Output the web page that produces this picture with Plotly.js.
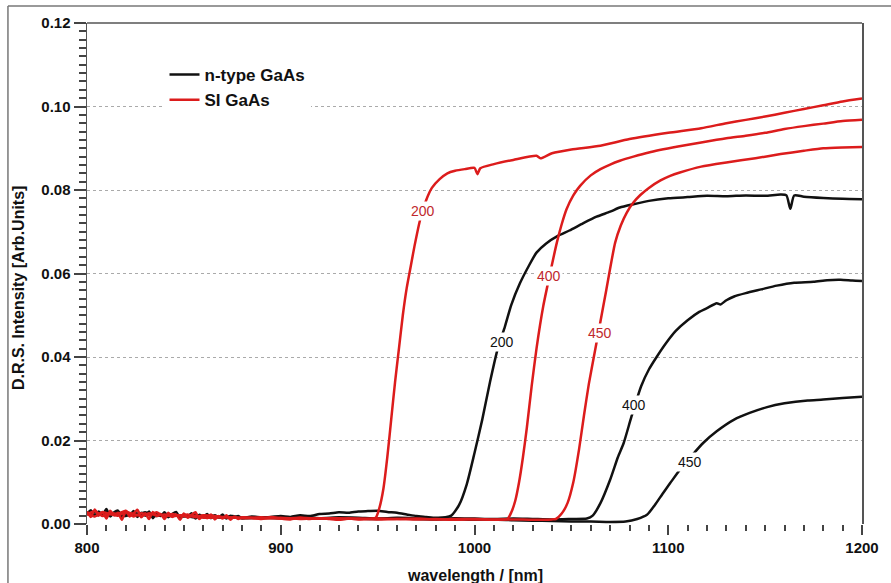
<!DOCTYPE html>
<html>
<head>
<meta charset="utf-8">
<script src="https://cdn.plot.ly/plotly-3.0.1.min.js"></script>
<style>html,body{margin:0;padding:0;background:#fff;}#chart{width:891px;height:583px;}</style>
</head>
<body>
<div id="chart"></div>
<script>
// ---- data ----
const seriesNames = ["n-type GaAs", "SI GaAs"];
const curveLabels = ["200", "400", "450"];
const xTitle = "wavelength / [nm]";
const yTitle = "D.R.S. Intensity [Arb.Units]";

// n-type GaAs, 200
const nt200_wl = [800,802,804,806,808,810,812,814,816,818,820,822,824,826,828,830,832,834,836,838,
  840,842,844,846,848,850,852,854,856,858,860,862,864,866,868,870,872,874,876,878,880,
  885,890,895,900,905,910,915,920,925,930,935,940,945,950,955,960,965,970,975,980,985,
  988,992,996,1000,1004,1008,1012,1015.7,1019,1023.5,1028,1032,1037,1043,1049,1056,1063,1070,1075,1082,1090,
  1100,1110,1120,1130,1140,1150,1158,1161,1163,1165,1170,1180,1190,1200];
const nt200_val = [0.0025,0.0033,0.0019,0.0030,0.0022,0.0036,0.0018,0.0028,0.0032,0.0015,0.0029,0.0021,0.0031,0.0017,0.0027,0.0020,0.0030,0.0014,0.0025,0.0019,
  0.0028,0.0016,0.0024,0.0029,0.0015,0.0023,0.0018,0.0026,0.0013,0.0022,0.0017,0.0024,0.0014,0.0021,0.0016,0.0023,0.0013,0.0020,0.0015,0.0019,0.0014,
  0.0018,0.0016,0.0017,0.0019,0.0017,0.0021,0.0019,0.0024,0.0025,0.0028,0.0027,0.0030,0.0031,0.0032,0.0029,0.0027,0.0023,0.0019,0.0017,0.0015,0.0016,
  0.0020,0.0045,0.0095,0.0170,0.0250,0.0340,0.0420,0.0473,0.0525,0.0577,0.0618,0.0650,0.0672,0.0690,0.0703,0.0720,0.0736,0.0748,0.0758,0.0766,0.0774,
  0.0780,0.0783,0.0786,0.0785,0.0787,0.0786,0.0789,0.0787,0.0755,0.0787,0.0784,0.0781,0.0779,0.0778];

// n-type GaAs, 400
const nt400_wl = [800,805,810,815,820,825,830,835,840,845,850,855,860,865,870,875,880,
  890,900,910,920,930,940,950,960,970,980,990,1000,1010,1020,1030,1040,1050,
  1058,1061,1065,1070,1074,1077,1081,1086,1090,1094,1099,1104,1110,1116,1120,1125,1127,1130,1134,1140,1148,1156,1165,1175,1182,1189,1195,1200];
const nt400_val = [0.0023,0.0029,0.0020,0.0027,0.0025,0.0021,0.0028,0.0019,0.0024,0.0022,0.0018,0.0023,0.0017,0.0020,0.0016,0.0019,0.0015,
  0.0016,0.0015,0.0017,0.0014,0.0016,0.0015,0.0013,0.0015,0.0014,0.0012,0.0014,0.0013,0.0012,0.0013,0.0012,0.0011,0.0012,
  0.0013,0.0020,0.0050,0.0106,0.0160,0.0194,0.0257,0.0330,0.0370,0.0400,0.0434,0.0463,0.0488,0.0508,0.0517,0.0529,0.0526,0.0536,0.0545,0.0553,0.0562,0.0571,0.0578,0.0580,0.0584,0.0585,0.0583,0.0582];

// n-type GaAs, 450
const nt450_wl = [800,805,810,815,820,825,830,835,840,845,850,855,860,865,870,875,880,
  890,900,910,920,930,940,950,960,970,980,990,1000,1010,1020,1030,1040,1050,1060,1070,
  1078,1084,1089,1093,1097,1101,1106,1112,1118,1125,1134,1142,1151,1160,1172,1180,1190,1200];
const nt450_val = [0.0026,0.0021,0.0028,0.0023,0.0019,0.0026,0.0022,0.0025,0.0018,0.0021,0.0020,0.0016,0.0019,0.0017,0.0015,0.0017,0.0014,
  0.0015,0.0014,0.0016,0.0013,0.0014,0.0013,0.0012,0.0014,0.0012,0.0011,0.0012,0.0010,0.0011,0.0009,0.0008,0.0007,0.0006,0.0006,0.0005,
  0.0006,0.0012,0.0022,0.0045,0.0072,0.0098,0.0130,0.0163,0.0194,0.0222,0.0250,0.0266,0.0280,0.0289,0.0296,0.0298,0.0302,0.0305];

// SI GaAs, 200
const si200_wl = [800,802,804,806,808,810,812,814,816,818,820,822,824,826,828,830,832,834,836,838,
  840,842,844,846,848,850,852,854,856,858,860,862,864,866,868,870,872,874,876,878,880,
  885,890,895,900,905,910,915,920,925,930,935,940,945,
  949,951,953,955,957,959,961,963,965,967,969,972,975,978,982,986,990,995,1000,1001.5,1003,
  1010,1020,1032,1034,1040,1050,1065,1080,1100,1117,1130,1140,1150,1160,1170,1180,1190,1200];
const si200_val = [0.0030,0.0017,0.0035,0.0020,0.0028,0.0013,0.0032,0.0021,0.0027,0.0010,0.0031,0.0018,0.0025,0.0034,0.0016,0.0026,0.0012,0.0029,0.0019,0.0024,
  0.0012,0.0027,0.0017,0.0023,0.0010,0.0025,0.0015,0.0022,0.0028,0.0012,0.0020,0.0014,0.0023,0.0011,0.0019,0.0013,0.0021,0.0010,0.0018,0.0012,0.0016,
  0.0015,0.0012,0.0017,0.0013,0.0011,0.0015,0.0012,0.0014,0.0012,0.0010,0.0013,0.0011,0.0012,
  0.0015,0.0040,0.0085,0.0160,0.0250,0.0340,0.0420,0.0500,0.0565,0.0615,0.0665,0.0730,0.0775,0.0805,0.0826,0.0840,0.0846,0.0850,0.0853,0.0838,0.0852,
  0.0862,0.0872,0.0882,0.0876,0.0888,0.0897,0.0906,0.0922,0.0937,0.0948,0.0960,0.0968,0.0976,0.0985,0.0994,0.1003,0.1012,0.1019];

// SI GaAs, 400
const si400_wl = [800,804,808,812,816,820,824,828,832,836,840,844,848,852,856,860,
  870,880,890,900,910,920,930,940,950,960,970,980,990,1000,1010,
  1017,1019,1021,1023,1025,1027,1029.5,1032,1035.5,1039,1042.5,1045,1047.5,1051,1054.5,1060,1065,1070,1075,1082,1090,1105,1117,1130,1140,1150,1160,1170,1180,1190,1200];
const si400_val = [0.0022,0.0031,0.0019,0.0027,0.0024,0.0032,0.0018,0.0026,0.0021,0.0028,0.0017,0.0024,0.0020,0.0023,0.0016,0.0021,
  0.0017,0.0014,0.0016,0.0013,0.0015,0.0013,0.0014,0.0012,0.0013,0.0012,0.0013,0.0011,0.0012,0.0012,0.0011,
  0.0012,0.0028,0.0055,0.0100,0.0160,0.0230,0.0330,0.0420,0.0522,0.0600,0.0674,0.0718,0.0754,0.0787,0.0810,0.0835,0.0850,0.0861,0.0870,0.0880,0.0890,0.0904,0.0914,0.0924,0.0930,0.0937,0.0946,0.0953,0.0959,0.0965,0.0968];

// SI GaAs, 450
const si450_wl = [800,804,808,812,816,820,824,828,832,836,840,844,848,852,856,860,
  870,880,890,900,910,920,930,940,950,960,970,980,990,1000,1010,1020,1030,1040,
  1042,1045,1048,1051,1054,1056.5,1059,1062,1065,1068,1072.6,1075.5,1078.6,1082,1085.6,1090,1096,1101,1106,1117,1130,1145,1158,1170,1180,1190,1200];
const si450_val = [0.0025,0.0018,0.0029,0.0023,0.0020,0.0028,0.0024,0.0019,0.0026,0.0020,0.0023,0.0018,0.0021,0.0017,0.0020,0.0015,
  0.0016,0.0015,0.0013,0.0015,0.0012,0.0014,0.0012,0.0013,0.0011,0.0012,0.0011,0.0012,0.0010,0.0011,0.0010,0.0011,0.0010,0.0011,
  0.0012,0.0025,0.0050,0.0100,0.0180,0.0260,0.0335,0.0410,0.0485,0.0560,0.0674,0.0715,0.0746,0.0770,0.0788,0.0805,0.0823,0.0834,0.0842,0.0856,0.0866,0.0876,0.0886,0.0894,0.0900,0.0902,0.0903];

// curve label positions (wavelength, intensity)
const lbl_nt_wl = [1014.2, 1082.5, 1111.4];
const lbl_nt_val = [0.0437, 0.0286, 0.0149];
const lbl_si_wl = [973.3, 1038.5, 1064.9];
const lbl_si_val = [0.0749, 0.0593, 0.0458];

// ---- styling ----
const BLACK = "#111111";
const RED = "#dc1c1c";
const RED_TXT = "#c0282d";
const AX = "#555555";
const TICK = "#444444";
const FONT = "Arial, Liberation Sans, sans-serif";

function tr(x, y, color, group, name, show) {
  return {x: x, y: y, type: "scatter", mode: "lines", name: name,
    legendgroup: group, showlegend: show,
    line: {color: color, width: 2.5, shape: "spline", smoothing: 0.6},
    hoverinfo: "skip"};
}

const data = [
  tr(nt200_wl, nt200_val, BLACK, "nt", seriesNames[0], true),
  tr(nt400_wl, nt400_val, BLACK, "nt", seriesNames[0], false),
  tr(nt450_wl, nt450_val, BLACK, "nt", seriesNames[0], false),
  tr(si200_wl, si200_val, RED, "si", seriesNames[1], true),
  tr(si400_wl, si400_val, RED, "si", seriesNames[1], false),
  tr(si450_wl, si450_val, RED, "si", seriesNames[1], false)
];

const annotations = [];
for (let i = 0; i < 3; i++) {
  annotations.push({x: lbl_nt_wl[i], y: lbl_nt_val[i], text: curveLabels[i], showarrow: false,
    font: {family: FONT, size: 14, color: BLACK},
    bgcolor: "#ffffff", borderpad: 1});
  annotations.push({x: lbl_si_wl[i], y: lbl_si_val[i], text: curveLabels[i], showarrow: false,
    font: {family: FONT, size: 14, color: RED_TXT},
    bgcolor: "#ffffff", borderpad: 1});
}
// axis titles
annotations.push({xref: "paper", yref: "paper", x: -0.089, y: 0.471, text: yTitle, textangle: -90,
  showarrow: false, xanchor: "center", yanchor: "middle",
  font: {family: FONT, size: 16, color: "#111", weight: "bold"}});
annotations.push({xref: "paper", yref: "paper", x: 0.5, y: -0.102, text: xTitle,
  showarrow: false, xanchor: "center", yanchor: "middle",
  font: {family: FONT, size: 16, color: "#111", weight: "bold"}});

const layout = {
  width: 891, height: 583,
  margin: {l: 87, r: 29, t: 23, b: 59, pad: 0},
  paper_bgcolor: "#ffffff", plot_bgcolor: "#ffffff",
  font: {family: FONT, color: "#111"},
  showlegend: true,
  legend: {x: 0.1, y: 0.932, xanchor: "left", yanchor: "top",
    bgcolor: "#ffffff", borderwidth: 0, tracegroupgap: 0,
    font: {family: FONT, size: 17, color: "#111", weight: "bold"},
    itemwidth: 30},
  xaxis: {range: [800, 1200], dtick: 100, showgrid: false, zeroline: false,
    showline: false, ticks: "outside", ticklen: 10, tickwidth: 2, tickcolor: TICK,
    minor: {dtick: 10, ticks: "outside", ticklen: 6, tickwidth: 2, tickcolor: TICK},
    tickfont: {family: FONT, size: 15, color: "#111", weight: "bold"}},
  yaxis: {range: [0, 0.12], dtick: 0.02, tickformat: ".2f",
    showgrid: true, gridcolor: "#aaaaaa", griddash: "dot", gridwidth: 1, zeroline: false,
    showline: true, mirror: true, linecolor: AX, linewidth: 1.5,
    ticks: "outside", ticklen: 12, tickwidth: 2, tickcolor: TICK,
    minor: {dtick: 0.002, ticks: "outside", ticklen: 7, tickwidth: 2, tickcolor: TICK},
    tickfont: {family: FONT, size: 15, color: "#111", weight: "bold"}},
  annotations: annotations,
  shapes: [
    {type: "line", xref: "paper", yref: "paper", x0: 0, x1: 1, y0: 1, y1: 1,
      line: {color: AX, width: 1.5}},
    {type: "line", xref: "paper", yref: "paper", x0: -0.102, x1: 1.05, y0: 1.034, y1: 1.034,
      line: {color: "#777777", width: 1.5}},
    {type: "line", xref: "paper", yref: "paper", x0: -0.102, x1: -0.102, y0: 1.034, y1: -0.2,
      line: {color: "#777777", width: 1.5}}
  ]
};

Plotly.newPlot("chart", data, layout, {staticPlot: true});
</script>
</body>
</html>
